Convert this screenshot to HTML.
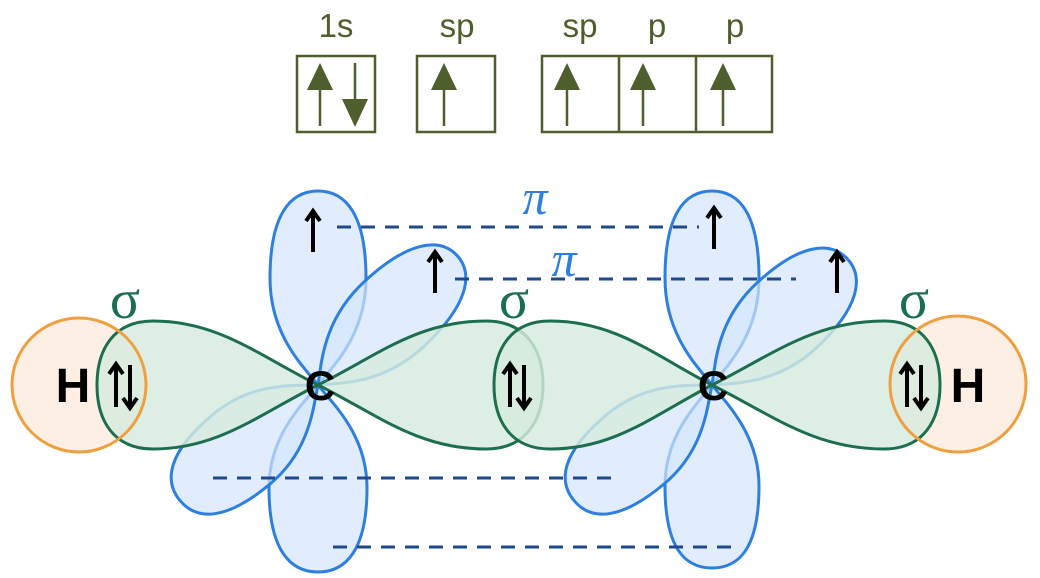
<!DOCTYPE html>
<html><head><meta charset="utf-8"><style>
html,body{margin:0;padding:0;background:#fff;}
svg{display:block;}
</style></head><body>
<svg width="1040" height="578" viewBox="0 0 1040 578" xmlns="http://www.w3.org/2000/svg">
<defs>
<g id="up"><line x1="0" y1="-20" x2="0" y2="20" stroke="#000" stroke-width="4"/><polyline points="-7,-11 0,-21 7,-11" fill="none" stroke="#000" stroke-width="4" stroke-linejoin="miter"/></g>
<g id="ud"><line x1="-7" y1="-20" x2="-7" y2="22" stroke="#000" stroke-width="4"/><polyline points="-14,-11 -7,-21 0,-11" fill="none" stroke="#000" stroke-width="4"/><line x1="7" y1="-20" x2="7" y2="22" stroke="#000" stroke-width="4"/><polyline points="0,13 7,23 14,13" fill="none" stroke="#000" stroke-width="4"/></g>
</defs>
<g font-family="Liberation Sans, sans-serif" font-size="33" fill="#4e5e2c" text-anchor="middle">
<text x="336" y="37">1s</text>
<text x="457" y="37">sp</text>
<text x="580" y="37">sp</text>
<text x="657" y="37">p</text>
<text x="735" y="37">p</text>
</g>
<g fill="none" stroke="#4e5e2c" stroke-width="2.5">
<rect x="297" y="56" width="78" height="76"/>
<rect x="417" y="56" width="78" height="76"/>
<rect x="542" y="56" width="230" height="76"/>
<line x1="619" y1="56" x2="619" y2="132"/>
<line x1="696" y1="56" x2="696" y2="132"/>
<line x1="320" y1="85" x2="320" y2="126"/>
<line x1="355" y1="63" x2="355" y2="104"/>
<line x1="444" y1="85" x2="444" y2="126"/>
<line x1="567" y1="85" x2="567" y2="126"/>
<line x1="643" y1="85" x2="643" y2="126"/>
<line x1="723" y1="85" x2="723" y2="126"/>
</g>
<g fill="#4e5e2c">
<polygon points="320,63 307,90 333,90"/>
<polygon points="355,127 342,99 368,99"/>
<polygon points="444,63 431,90 457,90"/>
<polygon points="567,63 554,90 580,90"/>
<polygon points="643,63 630,90 656,90"/>
<polygon points="723,63 710,90 736,90"/>
</g>

<circle cx="79" cy="385" r="67" fill="#fdefe3"/>
<circle cx="958" cy="384" r="68" fill="#fdefe3"/>

<g fill="rgba(212,230,252,0.7)" stroke="#2d7fe0" stroke-width="3">
<path transform="translate(318,385) rotate(-90)" d="M0,0 C19,-15 50,-48 107,-48 C170,-48 194,-28 194,0 C194,28 170,48 107,48 C50,48 19,15 0,0Z"/>
<path transform="translate(318,385) rotate(90)" d="M0,0 C19,-15 50,-49 103,-49 C165,-49 187,-28 187,0 C187,28 165,49 103,49 C50,49 19,15 0,0Z"/>
<path transform="translate(318,385) rotate(-43)" d="M0,0 C18,-14 48,-44 104,-44 C164,-44 190,-25 190,0 C190,25 164,44 104,44 C48,44 18,14 0,0Z"/>
<path transform="translate(318,385) rotate(140)" d="M0,0 C18,-14 48,-45 100,-45 C158,-45 180,-26 180,0 C180,26 158,45 100,45 C48,45 18,14 0,0Z"/>
<path transform="translate(712,385) rotate(-90)" d="M0,0 C19,-15 50,-47 107,-47 C170,-47 194,-28 194,0 C194,28 170,47 107,47 C50,47 19,15 0,0Z"/>
<path transform="translate(712,385) rotate(90)" d="M0,0 C19,-15 50,-47 101,-47 C162,-47 183,-28 183,0 C183,28 162,47 101,47 C50,47 19,15 0,0Z"/>
<path transform="translate(712,385) rotate(-43)" d="M0,0 C18,-14 48,-44 102,-44 C160,-44 185,-25 185,0 C185,25 160,44 102,44 C48,44 18,14 0,0Z"/>
<path transform="translate(712,385) rotate(140)" d="M0,0 C18,-14 48,-45 100,-45 C158,-45 180,-26 180,0 C180,26 158,45 100,45 C48,45 18,14 0,0Z"/>
</g>

<g fill="rgba(214,236,222,0.82)" stroke="#1d6e4f" stroke-width="3">
<path transform="translate(318,385) rotate(180)" d="M0,0 C60,-30 100,-64 165,-64 C205,-64 221,-35 221,0 C221,35 205,64 165,64 C100,64 60,30 0,0Z"/>
<path transform="translate(318,385)" d="M0,0 C60,-30 100,-64 168,-64 C208,-64 225,-35 225,0 C225,35 208,64 168,64 C100,64 60,30 0,0Z"/>
<path transform="translate(712,385) rotate(180)" d="M0,0 C58,-30 97,-64 162,-64 C202,-64 218,-35 218,0 C218,35 202,64 162,64 C97,64 58,30 0,0Z"/>
<path transform="translate(712,385)" d="M0,0 C60,-30 102,-64 172,-64 C212,-64 228,-35 228,0 C228,35 212,64 172,64 C102,64 60,30 0,0Z"/>
</g>

<circle cx="79" cy="385" r="67" fill="none" stroke="#eea040" stroke-width="3"/>
<circle cx="958" cy="384" r="68" fill="none" stroke="#eea040" stroke-width="3"/>

<g stroke="#1e4a8c" stroke-width="3" stroke-dasharray="14,10" fill="none">
<line x1="337" y1="227" x2="699" y2="227"/>
<line x1="455" y1="279" x2="796" y2="279"/>
<line x1="213" y1="478" x2="611" y2="478"/>
<line x1="333" y1="547" x2="731" y2="547"/>
</g>

<g font-family="Liberation Serif, serif" font-style="italic" font-size="50" fill="#2d7fe0" text-anchor="middle">
<text x="535" y="214">π</text>
<text x="564" y="276">π</text>
</g>
<g font-family="Liberation Serif, serif" font-size="56" fill="#1d6e4f" text-anchor="middle">
<text x="125" y="318">σ</text>
<text x="514" y="318">σ</text>
<text x="914" y="318">σ</text>
</g>
<g font-family="Liberation Sans, sans-serif" font-weight="bold" font-size="48" fill="#000" text-anchor="middle">
<text x="73" y="402">H</text>
<text x="968" y="402">H</text>
</g>
<g font-family="Liberation Sans, sans-serif" font-weight="bold" font-size="42" fill="#000" text-anchor="middle">
<text x="320" y="400">C</text>
<text x="713" y="400">C</text>
</g>
<use href="#ud" x="123" y="385"/>
<use href="#ud" x="517" y="385"/>
<use href="#ud" x="914" y="385"/>
<use href="#up" x="313" y="232"/>
<use href="#up" x="435" y="273"/>
<use href="#up" x="714" y="229"/>
<use href="#up" x="837" y="273"/>
</svg>
</body></html>
